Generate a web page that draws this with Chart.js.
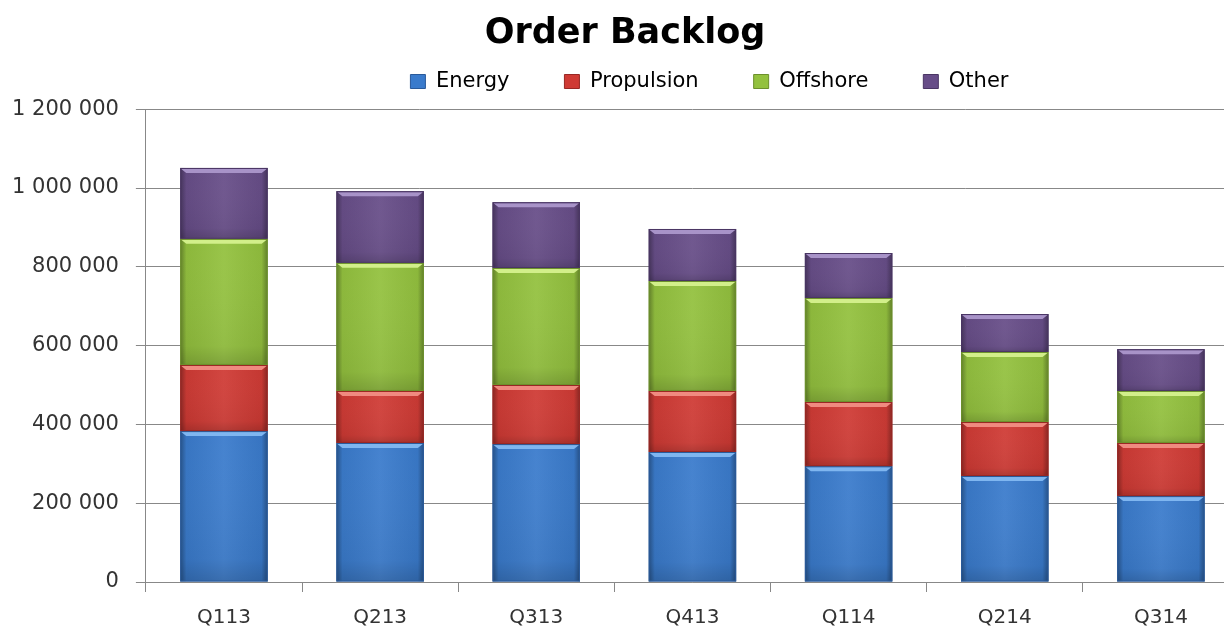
<!DOCTYPE html>
<html>
<head>
<meta charset="utf-8">
<script src="https://cdn.jsdelivr.net/npm/chart.js@4/dist/chart.umd.min.js"></script>
<style>
  html, body { margin: 0; padding: 0; background: #fff; overflow: hidden; }
  #wrap { width: 1252px; height: 629px; position: relative; }
</style>
</head>
<body>
<div id="wrap"><canvas id="chart"></canvas></div>
<script>
// data
const categories = ['Q113', 'Q213', 'Q313', 'Q413', 'Q114', 'Q214', 'Q314'];
const energy = [383000, 353000, 350000, 330000, 294000, 269000, 218000];
const propulsion = [168000, 132000, 150000, 155000, 163000, 137000, 135000];
const offshore = [320000, 325000, 297000, 279000, 264000, 178000, 132000];
const other = [180000, 182000, 167000, 132000, 114000, 96000, 106000];
const yTicks = [0, 200000, 400000, 600000, 800000, 1000000, 1200000];

const colors = {
    Energy: { fill: '#3a7bcc', edge: '#2a5a9a', light: '#7fb6f0' },
    Propulsion: { fill: '#cf3a34', edge: '#982824', light: '#f08a80' },
    Offshore: { fill: '#93c13e', edge: '#6c902c', light: '#d2ef8a' },
    Other: { fill: '#674d88', edge: '#4a3664', light: '#a893c8' }
};

function fmt(v) {
    return String(v).replace(/\B(?=(\d{3})+(?!\d))/g, ' ');
}

// bevel / shading drawn on top of each bar, Excel style
const bevel = {
    id: 'bevel',
    afterDatasetsDraw(chart) {
        const ctx = chart.ctx;
        chart.data.datasets.forEach((ds, di) => {
            const c = colors[ds.label];
            chart.getDatasetMeta(di).data.forEach(el => {
                const l = el.x - el.width / 2, r = el.x + el.width / 2;
                const t = Math.min(el.y, el.base), b = Math.max(el.y, el.base);
                const h = b - t;
                ctx.save();
                let g = ctx.createLinearGradient(l, 0, r, 0);
                g.addColorStop(0, 'rgba(0,0,0,0.35)');
                g.addColorStop(0.07, 'rgba(0,0,0,0.05)');
                g.addColorStop(0.5, 'rgba(255,255,255,0.06)');
                g.addColorStop(0.93, 'rgba(0,0,0,0.05)');
                g.addColorStop(1, 'rgba(0,0,0,0.35)');
                ctx.fillStyle = g;
                ctx.fillRect(l, t, r - l, h);
                g = ctx.createLinearGradient(0, t, 0, b);
                g.addColorStop(0, 'rgba(255,255,255,0)');
                g.addColorStop(0.85, 'rgba(0,0,0,0.04)');
                g.addColorStop(1, 'rgba(0,0,0,0.16)');
                ctx.fillStyle = g;
                ctx.fillRect(l, t, r - l, h);
                // top highlight
                const s = Math.min(5, h / 4);
                ctx.beginPath();
                ctx.moveTo(l + 1, t + 1);
                ctx.lineTo(r - 1, t + 1);
                ctx.lineTo(r - 1 - s, t + s);
                ctx.lineTo(l + 1 + s, t + s);
                ctx.closePath();
                ctx.fillStyle = c.light;
                ctx.fill();
                ctx.strokeStyle = c.edge;
                ctx.lineWidth = 1;
                ctx.strokeRect(l + 0.5, t + 0.5, r - l - 1, h - 1);
                ctx.restore();
            });
        });
    }
};

// small offsets for title and legend to sit where the original has them
const boxShift = {
    id: 'boxShift',
    afterLayout(chart) {
        chart.titleBlock.left += 8;
        chart.titleBlock.right += 8;
        chart.legend.left += 17;
        chart.legend.right += 17;
    }
};

function makeSet(label, values) {
    return {
        label: label,
        data: values,
        backgroundColor: colors[label].fill,
        borderColor: colors[label].edge,
        borderWidth: 0,
        categoryPercentage: 0.56,
        barPercentage: 1
    };
}

new Chart(document.getElementById('chart'), {
    type: 'bar',
    data: {
        labels: categories,
        datasets: [
            makeSet('Energy', energy),
            makeSet('Propulsion', propulsion),
            makeSet('Offshore', offshore),
            makeSet('Other', other)
        ]
    },
    options: {
        responsive: true,
        maintainAspectRatio: false,
        animation: false,
        layout: { padding: { left: -5, right: 13, top: 0, bottom: -15 } },
        plugins: {
            title: {
                display: true,
                text: 'Order Backlog',
                color: '#000',
                font: { family: 'DejaVu Sans', size: 35, weight: 'bold' },
                padding: { top: 13, bottom: -39 }
            },
            subtitle: {
                display: true,
                text: '',
                weight: 500,
                font: { size: 1 },
                padding: { top: 0, bottom: 6 }
            },
            legend: {
                display: true,
                position: 'top',
                fullSize: false,
                labels: {
                    color: '#333',
                    font: { family: 'DejaVu Sans', size: 21 },
                    boxWidth: 15,
                    boxHeight: 14,
                    padding: 55,
                    generateLabels(chart) {
                        return chart.data.datasets.map((ds, i) => ({
                            text: ds.label,
                            fillStyle: colors[ds.label].fill,
                            strokeStyle: colors[ds.label].edge,
                            lineWidth: 1,
                            datasetIndex: i,
                            hidden: false
                        }));
                    }
                }
            },
            tooltip: { enabled: false }
        },
        scales: {
            x: {
                stacked: true,
                grid: {
                    display: true,
                    drawOnChartArea: false,
                    drawTicks: true,
                    tickLength: 10,
                    color: '#888',
                    offset: true
                },
                border: { display: true, color: '#888', width: 1 },
                ticks: {
                    color: '#333',
                    font: { family: 'DejaVu Sans', size: 20 },
                    padding: 14
                }
            },
            y: {
                stacked: true,
                min: 0,
                max: 1200000,
                afterBuildTicks(axis) {
                    axis.ticks = yTicks.map(v => ({ value: v }));
                },
                grid: {
                    color: '#888',
                    tickLength: 10,
                    lineWidth: 1
                },
                border: { display: true, color: '#888', width: 1 },
                ticks: {
                    color: '#333',
                    font: { family: 'DejaVu Sans', size: 21 },
                    padding: 17,
                    callback: v => fmt(v)
                }
            }
        }
    },
    plugins: [bevel, boxShift]
});
</script>
</body>
</html>
